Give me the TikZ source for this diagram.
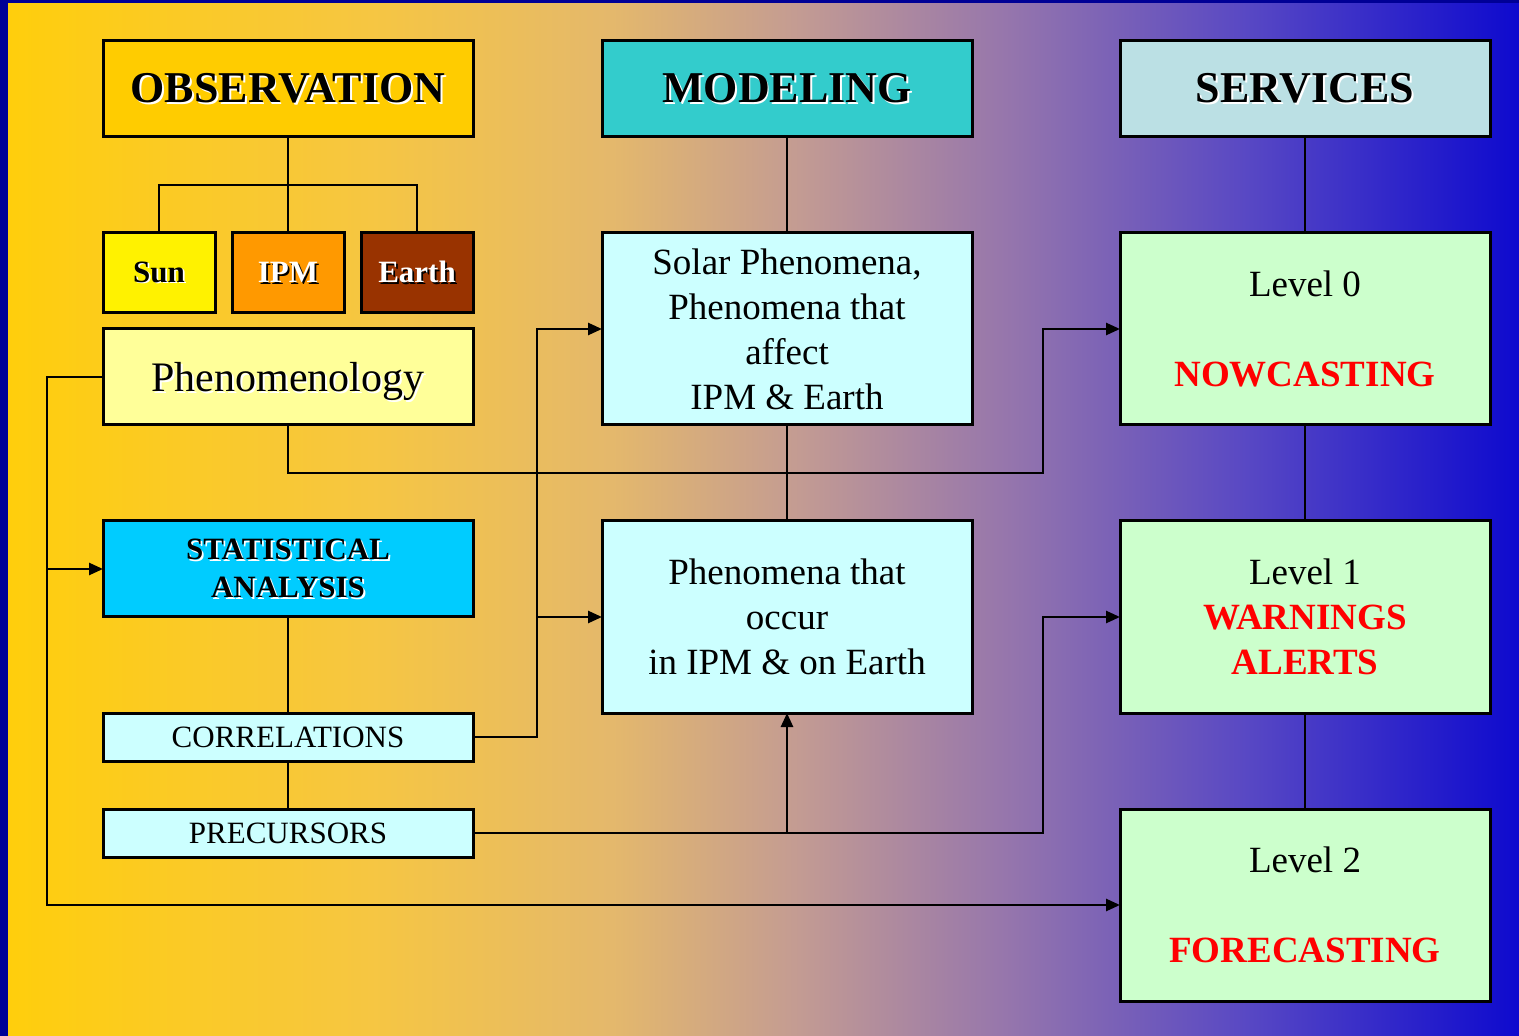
\documentclass[tikz,border=0pt]{standalone}
\usepackage{fontspec}
\setmainfont{Liberation Serif}
\usepackage{xcolor}
\usepackage{tikz}
\usetikzlibrary{shapes, arrows.meta, positioning}

\definecolor{frame}{RGB}{0,0,150}
\definecolor{bgA}{RGB}{255,206,12}
\definecolor{bgB}{RGB}{246,198,66}
\definecolor{bgC}{RGB}{228,184,108}
\definecolor{bgD}{RGB}{196,156,146}
\definecolor{bgE}{RGB}{150,118,172}
\definecolor{bgF}{RGB}{88,72,196}
\definecolor{bgG}{RGB}{14,10,206}
\definecolor{obsfill}{RGB}{255,204,0}
\definecolor{modfill}{RGB}{51,204,204}
\definecolor{servfill}{RGB}{187,224,228}
\definecolor{ipmfill}{RGB}{255,153,0}
\definecolor{earthfill}{RGB}{153,51,0}
\definecolor{phenfill}{RGB}{255,255,153}
\definecolor{statfill}{RGB}{0,204,255}
\definecolor{cyanfill}{RGB}{204,255,255}
\definecolor{greenfill}{RGB}{204,255,204}

\pgfdeclarehorizontalshading{backdrop}{100bp}{color(0bp)=(bgA); color(25bp)=(bgA);
  color(37bp)=(bgB); color(45bp)=(bgC); color(51bp)=(bgD); color(58bp)=(bgE);
  color(66bp)=(bgF); color(75bp)=(bgG); color(100bp)=(bgG)}

% text with a drop shadow
\newcommand{\shadowed}[2]{\leavevmode\rlap{\kern0.9pt\raisebox{-0.9pt}{\color{#1}#2}}#2}

\begin{document}
\begin{tikzpicture}[node distance=48pt]
\tikzstyle{box} = [rectangle, draw=black, line width=1.5pt, outer sep=0pt, text centered, align=center, inner sep=0pt]
\tikzstyle{header} = [box, minimum width=185pt, minimum height=48pt, font=\bfseries\fontsize{22}{26}\selectfont]
\tikzstyle{tab} = [box, minimum width=56pt, minimum height=40pt, font=\bfseries\fontsize{15.5}{19}\selectfont]
\tikzstyle{wide} = [box, minimum width=185pt, minimum height=48pt]
\tikzstyle{tall} = [box, minimum width=185pt, minimum height=96pt, font=\fontsize{18.5}{22.5}\selectfont]
\tikzstyle{strip} = [box, fill=cyanfill, minimum width=185pt, minimum height=24pt, font=\fontsize{15.5}{19}\selectfont]
\tikzstyle{link} = [line width=1.3pt]
\tikzstyle{arrow} = [link, -{Triangle[length=7pt, width=6pt]}]

\useasboundingbox (0,0) rectangle (759.5pt,-518pt);
\fill [frame] (0,0) rectangle (759.5pt,-518pt);
\shade [shading=backdrop] (4pt,-2pt) rectangle (759.5pt,-518pt);

% column heads
\node (obs) [header, fill=obsfill] at (144pt,-44.5pt) {\shadowed{white}{OBSERVATION}};
\node (mod) [header, fill=modfill] at (393.5pt,-44.5pt) {\shadowed{white}{MODELING}};
\node (serv) [header, fill=servfill] at (652.5pt,-44.5pt) {\shadowed{white}{SERVICES}};

% observation column
\node (ipm) [tab, fill=ipmfill, text=white, below=of obs] {\shadowed{black}{IPM}};
\node (sun) [tab, fill=yellow, left=8.5pt of ipm] {\shadowed{white}{Sun}};
\node (earth) [tab, fill=earthfill, text=white, right=8.5pt of ipm] {\shadowed{black}{Earth}};
\node (phen) [wide, fill=phenfill, text depth=0pt, font=\fontsize{21}{25}\selectfont, below=8pt of ipm] {\shadowed{white}{Phenomenology}};
\node (stat) [wide, fill=statfill, font=\bfseries\fontsize{15.5}{19}\selectfont, below=of phen] {\shadowed{white}{STATISTICAL}\\\shadowed{white}{ANALYSIS}};
\node (corr) [strip, below=of stat] {CORRELATIONS};
\node (prec) [strip, below=24pt of corr] {PRECURSORS};

% modeling column
\node (solar) [tall, fill=cyanfill, below=of mod] {Solar Phenomena,\\Phenomena that\\affect\\IPM \& Earth};
\node (occur) [tall, fill=cyanfill, below=of solar] {Phenomena that\\occur\\in IPM \& on Earth};

% services column
\node (lvl0) [tall, fill=greenfill, below=of serv] {Level 0\\[22.5pt]\textcolor{red}{\bfseries NOWCASTING}};
\node (lvl1) [tall, fill=greenfill, below=of lvl0] {Level 1\\\textcolor{red}{\bfseries WARNINGS}\\\textcolor{red}{\bfseries ALERTS}};
\node (lvl2) [tall, fill=greenfill, below=of lvl1] {Level 2\\[22.5pt]\textcolor{red}{\bfseries FORECASTING}};

% tree links
\draw [link] (obs) -- (ipm);
\draw [link] (sun.north) -- ++(0,24pt) -| (earth.north);
\draw [link] (mod) -- (solar);
\draw [link] (solar) -- (occur);
\draw [link] (serv) -- (lvl0);
\draw [link] (lvl0) -- (lvl1);
\draw [link] (lvl1) -- (lvl2);
\draw [link] (stat) -- (corr);
\draw [link] (corr) -- (prec);

% flows
\draw [arrow] (phen.west) -- ++(-28pt,0) |- (stat.west);
\draw [arrow] (phen.west) -- ++(-28pt,0) |- (lvl2.west);
\draw [arrow] (phen.south) -- ++(0,-24pt) -| ([xshift=-38.5pt]lvl0.west) -- (lvl0.west);
\draw [arrow] (corr.east) -- ++(32pt,0) |- (solar.west);
\draw [arrow] (corr.east) -- ++(32pt,0) |- (occur.west);
\draw [arrow] (prec.east) -| (occur.south);
\draw [arrow] (prec.east) -| ([xshift=-38.5pt]lvl1.west) -- (lvl1.west);

\end{tikzpicture}
\end{document}
